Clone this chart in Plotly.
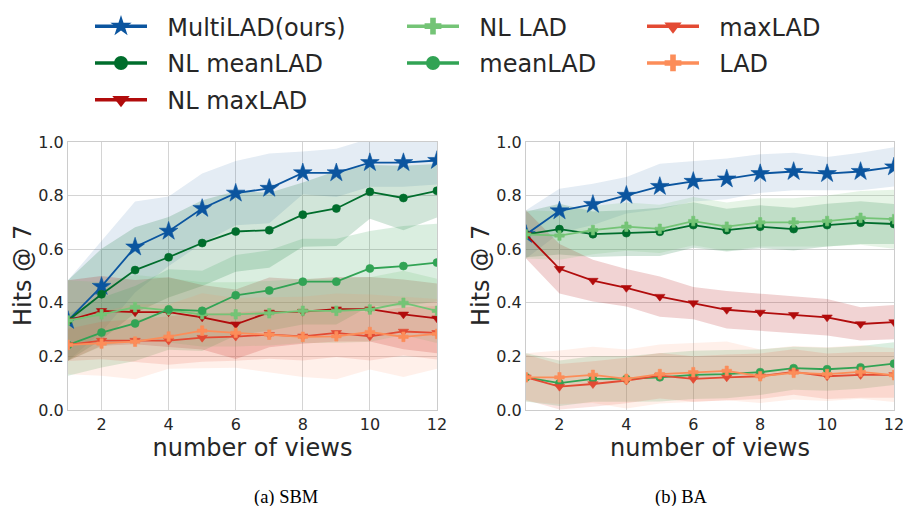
import plotly.graph_objects as go

# number of views on the x axis
views = list(range(1, 13))

# ---- SBM: mean Hits@7 and standard deviation per method ----
sbm_multilad = [0.334, 0.461, 0.608, 0.667, 0.752, 0.809, 0.827, 0.885, 0.885, 0.923, 0.923, 0.931]
sbm_multilad_sd = [0.15, 0.17, 0.17, 0.13, 0.13, 0.12, 0.13, 0.08, 0.09, 0.09, 0.09, 0.09]
sbm_nl_meanlad = [0.334, 0.432, 0.522, 0.570, 0.623, 0.666, 0.671, 0.729, 0.752, 0.814, 0.791, 0.818]
sbm_nl_meanlad_sd = [0.15, 0.17, 0.16, 0.15, 0.16, 0.15, 0.14, 0.12, 0.14, 0.10, 0.12, 0.10]
sbm_nl_maxlad = [0.334, 0.370, 0.365, 0.365, 0.346, 0.320, 0.364, 0.367, 0.376, 0.376, 0.357, 0.342]
sbm_nl_maxlad_sd = [0.15, 0.13, 0.12, 0.13, 0.12, 0.13, 0.13, 0.12, 0.12, 0.12, 0.13, 0.13]
sbm_nl_lad = [0.334, 0.357, 0.384, 0.372, 0.357, 0.357, 0.361, 0.370, 0.370, 0.375, 0.400, 0.370]
sbm_nl_lad_sd = [0.15, 0.12, 0.12, 0.12, 0.12, 0.12, 0.12, 0.12, 0.12, 0.12, 0.12, 0.12]
sbm_meanlad = [0.243, 0.289, 0.323, 0.375, 0.370, 0.428, 0.446, 0.479, 0.479, 0.528, 0.537, 0.550]
sbm_meanlad_sd = [0.115, 0.13, 0.14, 0.15, 0.15, 0.15, 0.15, 0.16, 0.16, 0.14, 0.15, 0.145]
sbm_maxlad = [0.243, 0.259, 0.259, 0.259, 0.270, 0.274, 0.281, 0.275, 0.288, 0.275, 0.293, 0.288]
sbm_maxlad_sd = [0.06, 0.07, 0.08, 0.09, 0.09, 0.09, 0.09, 0.09, 0.09, 0.09, 0.09, 0.10]
sbm_lad = [0.243, 0.248, 0.255, 0.274, 0.296, 0.288, 0.281, 0.273, 0.275, 0.291, 0.273, 0.284]
sbm_lad_sd = [0.11, 0.12, 0.14, 0.12, 0.14, 0.13, 0.14, 0.15, 0.16, 0.14, 0.15, 0.13]

# ---- BA: mean Hits@7 and standard deviation per method ----
ba_multilad = [0.655, 0.743, 0.767, 0.801, 0.834, 0.853, 0.862, 0.882, 0.890, 0.882, 0.890, 0.907]
ba_multilad_sd = [0.09, 0.083, 0.077, 0.068, 0.085, 0.075, 0.076, 0.072, 0.07, 0.062, 0.07, 0.073]
ba_nl_meanlad = [0.655, 0.675, 0.656, 0.660, 0.665, 0.690, 0.671, 0.684, 0.675, 0.690, 0.699, 0.694]
ba_nl_meanlad_sd = [0.085, 0.095, 0.085, 0.085, 0.09, 0.085, 0.08, 0.08, 0.08, 0.08, 0.08, 0.075]
ba_nl_maxlad = [0.655, 0.527, 0.483, 0.456, 0.423, 0.399, 0.374, 0.364, 0.355, 0.346, 0.321, 0.328]
ba_nl_maxlad_sd = [0.09, 0.092, 0.078, 0.07, 0.075, 0.06, 0.07, 0.07, 0.068, 0.068, 0.062, 0.064]
ba_nl_lad = [0.655, 0.651, 0.671, 0.684, 0.676, 0.705, 0.684, 0.700, 0.700, 0.705, 0.717, 0.712]
ba_nl_lad_sd = [0.09, 0.09, 0.09, 0.09, 0.09, 0.09, 0.09, 0.09, 0.09, 0.095, 0.10, 0.11]
ba_meanlad = [0.122, 0.100, 0.116, 0.116, 0.122, 0.131, 0.134, 0.141, 0.156, 0.152, 0.159, 0.173]
ba_meanlad_sd = [0.09, 0.085, 0.085, 0.085, 0.09, 0.09, 0.09, 0.085, 0.08, 0.08, 0.08, 0.08]
ba_maxlad = [0.122, 0.087, 0.097, 0.110, 0.128, 0.116, 0.122, 0.126, 0.142, 0.126, 0.131, 0.131]
ba_maxlad_sd = [0.085, 0.085, 0.085, 0.085, 0.085, 0.085, 0.085, 0.085, 0.085, 0.085, 0.085, 0.085]
ba_lad = [0.122, 0.122, 0.131, 0.116, 0.134, 0.141, 0.146, 0.126, 0.139, 0.134, 0.142, 0.130]
ba_lad_sd = [0.09, 0.10, 0.105, 0.11, 0.11, 0.11, 0.11, 0.10, 0.10, 0.10, 0.10, 0.10]

# method name, colour, marker symbol, plot marker size, legend column, band opacity
methods = [
    ("MultiLAD(ours)", "#0b559f", "star", 14, "legend", 0.11),
    ("NL meanLAD", "#006d2c", "circle", 8, "legend", 0.18),
    ("NL maxLAD", "#b10c0c", "triangle-down", 9, "legend", 0.18),
    ("NL LAD", "#74c476", "cross", 8, "legend2", 0.18),
    ("meanLAD", "#31a354", "circle", 8, "legend2", 0.18),
    ("maxLAD", "#e34a33", "triangle-down", 9, "legend3", 0.15),
    ("LAD", "#fc8d59", "cross", 8, "legend3", 0.13),
]

sbm_series = [
    (sbm_multilad, sbm_multilad_sd), (sbm_nl_meanlad, sbm_nl_meanlad_sd),
    (sbm_nl_maxlad, sbm_nl_maxlad_sd), (sbm_nl_lad, sbm_nl_lad_sd),
    (sbm_meanlad, sbm_meanlad_sd), (sbm_maxlad, sbm_maxlad_sd), (sbm_lad, sbm_lad_sd),
]
ba_series = [
    (ba_multilad, ba_multilad_sd), (ba_nl_meanlad, ba_nl_meanlad_sd),
    (ba_nl_maxlad, ba_nl_maxlad_sd), (ba_nl_lad, ba_nl_lad_sd),
    (ba_meanlad, ba_meanlad_sd), (ba_maxlad, ba_maxlad_sd), (ba_lad, ba_lad_sd),
]


def rgba(hex_color, alpha):
    h = hex_color.lstrip("#")
    r, g, b = int(h[0:2], 16), int(h[2:4], 16), int(h[4:6], 16)
    return f"rgba({r},{g},{b},{alpha})"


fig = go.Figure()

panels = [(sbm_series, "x", "y"), (ba_series, "x2", "y2")]

# shaded mean ± sd bands first, so that every line sits on top
for series, xa, ya in panels:
    for (name, color, symbol, size, leg, alpha), (mean, sd) in zip(methods, series):
        upper = [m + s for m, s in zip(mean, sd)]
        lower = [m - s for m, s in zip(mean, sd)]
        fig.add_trace(go.Scatter(
            x=views + views[::-1], y=upper + lower[::-1],
            xaxis=xa, yaxis=ya, mode="lines", fill="toself",
            fillcolor=rgba(color, alpha), line=dict(width=0),
            hoverinfo="skip", showlegend=False, legendgroup=name,
        ))

# mean lines with markers
for series, xa, ya in panels:
    for (name, color, symbol, size, leg, alpha), (mean, sd) in zip(methods, series):
        fig.add_trace(go.Scatter(
            x=views, y=mean, xaxis=xa, yaxis=ya, mode="lines+markers",
            name=name, legendgroup=name, showlegend=False,
            line=dict(color=color, width=1.8),
            marker=dict(symbol=symbol, size=size, color=color,
                        line=dict(width=0.6, color=color)),
        ))

# legend entries (bigger markers, thicker lines), grouped into three columns
legend_sizes = {"star": 22, "circle": 14, "triangle-down": 15, "cross": 14}
PAD = "\u00a0\u00a0"
for name, color, symbol, size, leg, alpha in methods:
    fig.add_trace(go.Scatter(
        x=[None], y=[None], mode="lines+markers", name=PAD + name,
        legendgroup=name, legend=leg, showlegend=True,
        line=dict(color=color, width=3.5),
        marker=dict(symbol=symbol, size=legend_sizes[symbol], color=color),
    ))

TEXT = "#262626"
GRID = "#d4d4d4"
FONT = "DejaVu Sans"

axis_common = dict(
    showgrid=True, gridcolor=GRID, gridwidth=1.2,
    showline=True, linecolor="#cccccc", linewidth=1.2, mirror=True,
    zeroline=False, ticks="", tickfont=dict(family=FONT, size=16, color=TEXT),
    automargin=False, ticklabeloverflow="allow",
)

xdom1 = [0.0, 0.4467]
xdom2 = [0.5545, 1.0]
PLOT_L, PLOT_W = 68, 826

for xa, dom, anchor in [("xaxis", xdom1, "y"), ("xaxis2", xdom2, "y2")]:
    fig.layout[xa] = dict(
        axis_common, domain=dom, anchor=anchor, range=[1, 12],
        tickmode="linear", tick0=2, dtick=2,
        title=dict(text="number of views", font=dict(family=FONT, size=24, color=TEXT),
                   standoff=2),
    )
for ya, anchor in [("yaxis", "x"), ("yaxis2", "x2")]:
    fig.layout[ya] = dict(
        axis_common, domain=[0, 1], anchor=anchor, range=[0, 1],
        tickmode="linear", tick0=0, dtick=0.2, tickformat=".1f",
    )

legend_common = dict(
    orientation="v", xref="container", yref="container",
    xanchor="left", yanchor="top", y=0.992,
    bgcolor="rgba(0,0,0,0)", borderwidth=0,
    font=dict(family=FONT, size=24, color=TEXT),
    itemwidth=52, tracegroupgap=2.6, itemclick=False, itemdoubleclick=False,
)

caption_font = dict(family="Liberation Serif", size=18.5, color="#000000")
ytitle_font = dict(family=FONT, size=24, color=TEXT)

fig.update_layout(
    width=903, height=506,
    margin=dict(l=68, r=9, t=142, b=96, autoexpand=False),
    paper_bgcolor="white", plot_bgcolor="white",
    font=dict(family=FONT, color=TEXT),
    legend=dict(legend_common, x=90 / 903),
    legend2=dict(legend_common, x=402 / 903),
    legend3=dict(legend_common, x=642 / 903),
    annotations=[
        # y-axis titles of both panels
        dict(text="Hits @ 7", xref="paper", yref="paper",
             x=(23 - PLOT_L) / PLOT_W, y=0.5, xanchor="center", yanchor="middle",
             textangle=-90, showarrow=False, font=ytitle_font),
        dict(text="Hits @ 7", xref="paper", yref="paper",
             x=(481 - PLOT_L) / PLOT_W, y=0.5, xanchor="center", yanchor="middle",
             textangle=-90, showarrow=False, font=ytitle_font),
        # panel captions
        dict(text="(a) SBM", xref="paper", yref="paper",
             x=(xdom1[0] + xdom1[1]) / 2, y=-0.325, yanchor="middle",
             showarrow=False, font=caption_font),
        dict(text="(b) BA", xref="paper", yref="paper",
             x=(xdom2[0] + xdom2[1]) / 2, y=-0.325, yanchor="middle",
             showarrow=False, font=caption_font),
    ],
)

fig.write_html("out.html")
